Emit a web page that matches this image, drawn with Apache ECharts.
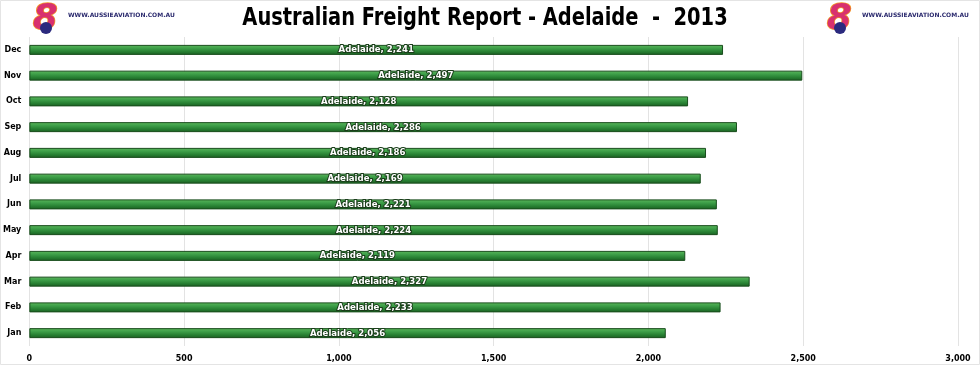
<!DOCTYPE html>
<html><head><meta charset="utf-8">
<script src="https://cdn.jsdelivr.net/npm/echarts@6/dist/echarts.min.js"></script>
<style>html,body{margin:0;padding:0;background:#fff}#c{width:980px;height:365px}</style>
</head><body><div id="c"></div>
<script>
const categories = ['Jan','Feb','Mar','Apr','May','Jun','Jul','Aug','Sep','Oct','Nov','Dec'];
const values = [2056, 2233, 2327, 2119, 2224, 2221, 2169, 2186, 2286, 2128, 2497, 2241];
const seriesName = 'Adelaide';
const titleText = 'Australian Freight Report - Adelaide  -  2013';
const logoText = 'WWW.AUSSIEAVIATION.COM.AU';

const COND = '"DejaVu Sans Condensed", "Roboto Condensed", Roboto, sans-serif';
const chart = echarts.init(document.getElementById('c'));
function logo(x) {
  return [
    { type: 'text', left: x, top: 1, style: { text: '8', font: 'italic bold 36px "DejaVu Sans"',
      fill: '#d8306e', stroke: '#f39a2a', lineWidth: 1.5 } },
    { type: 'circle', shape: { cx: x + 14, cy: 28, r: 6 }, style: { fill: '#2b2a7e' } },
    { type: 'text', left: x + 36, top: 12, style: { text: logoText, font: 'bold 6px "DejaVu Sans"', fill: '#2b2a6e' } }
  ];
}
chart.setOption({
  animation: false,
  backgroundColor: '#fff',
  graphic: [
    { type: 'rect', shape: { x: 0.5, y: 0.5, width: 979, height: 364 }, style: { fill: 'none', stroke: '#e4e4e4', lineWidth: 1 } },
    { type: 'text', x: 485, y: 7, scaleX: 0.9, originX: 0,
      style: { text: titleText, font: 'bold 24px ' + COND, fill: '#000', align: 'center', verticalAlign: 'top' } },
    ...logo(32), ...logo(826)
  ],
  grid: { left: 29, right: 22, top: 37, bottom: 19, containLabel: false },
  xAxis: { type: 'value', min: 0, max: 3000, interval: 500,
    axisLine: { show: false }, axisTick: { show: false },
    splitLine: { lineStyle: { color: '#e3e3e3', width: 1 } },
    axisLabel: { color: '#000', fontWeight: 'bold', fontSize: 8, fontFamily: 'DejaVu Sans', margin: 9,
      formatter: v => v.toLocaleString('en-US') } },
  yAxis: { type: 'category', data: categories,
    axisLine: { show: false }, axisTick: { show: false },
    axisLabel: { color: '#000', fontWeight: 'bold', fontSize: 8, fontFamily: 'DejaVu Sans', margin: 8 } },
  series: [{
    type: 'bar', name: seriesName, data: values, barWidth: 10,
    itemStyle: {
      color: new echarts.graphic.LinearGradient(0,0,0,1,[
        {offset:0,color:'#5cb85c'},{offset:0.35,color:'#3d9e48'},{offset:0.7,color:'#267e31'},{offset:1,color:'#1b5e22'}]),
      borderColor: '#184d1c', borderWidth: 1
    },
    label: { show: true, position: 'inside', color: '#fff', fontWeight: 'bold', fontSize: 9.5,
      fontFamily: COND,
      textBorderColor: '#1a3d1a', textBorderWidth: 2,
      formatter: p => seriesName + ', ' + p.value.toLocaleString('en-US') }
  }]
});
</script></body></html>
